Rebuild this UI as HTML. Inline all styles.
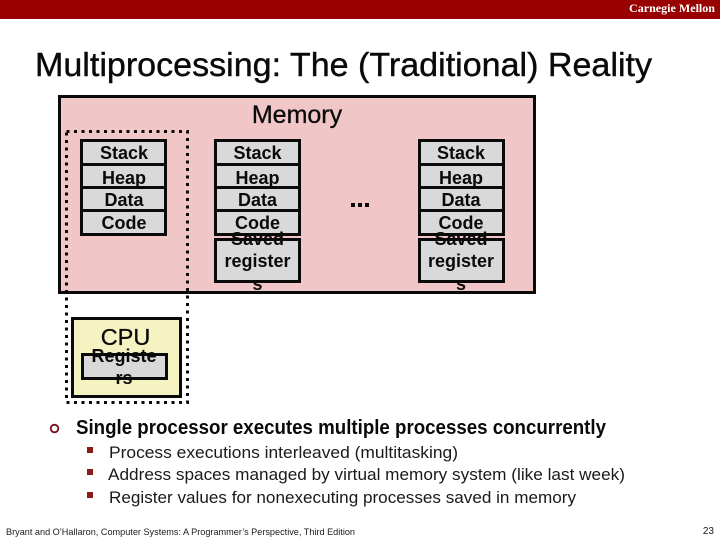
<!DOCTYPE html>
<html><head><meta charset="utf-8"><style>
html,body{margin:0;padding:0;background:#fff;width:720px;height:540px;overflow:hidden}
svg{display:block}
.a{font-family:"Liberation Sans",sans-serif}
.b{font-family:"Liberation Sans",sans-serif;font-weight:bold;font-size:18px;text-anchor:middle;fill:#0a0a0a}
</style></head><body>
<svg width="720" height="540" viewBox="0 0 720 540" xmlns="http://www.w3.org/2000/svg">
<rect x="0" y="0" width="720" height="19" fill="#990000"/>
<text x="715" y="12" text-anchor="end" font-family="'Liberation Serif',serif" font-weight="bold" font-size="11.5" fill="#fff" textLength="86" lengthAdjust="spacingAndGlyphs">Carnegie Mellon</text>
<text x="35" y="76" class="a" font-size="33" fill="#0a0a0a" stroke="#0a0a0a" stroke-width="0.4" textLength="617" lengthAdjust="spacingAndGlyphs">Multiprocessing: The (Traditional) Reality</text>

<rect x="59.5" y="96.5" width="475" height="196" fill="#f0c6c6" stroke="#0a0a0a" stroke-width="3"/>
<text x="297" y="123" class="a" font-size="25" text-anchor="middle" fill="#0a0a0a" stroke="#0a0a0a" stroke-width="0.3">Memory</text>

<g fill="#d9d9d9" stroke="#0a0a0a" stroke-width="3">
<rect x="81.5" y="140.5" width="84" height="24"/><rect x="81.5" y="164.5" width="84" height="23"/><rect x="81.5" y="187.5" width="84" height="23"/><rect x="81.5" y="210.5" width="84" height="24"/>
<rect x="215.5" y="140.5" width="84" height="24"/><rect x="215.5" y="164.5" width="84" height="23"/><rect x="215.5" y="187.5" width="84" height="23"/><rect x="215.5" y="210.5" width="84" height="24"/>
<rect x="215.5" y="239.5" width="84" height="42"/>
<rect x="419.5" y="140.5" width="84" height="24"/><rect x="419.5" y="164.5" width="84" height="23"/><rect x="419.5" y="187.5" width="84" height="23"/><rect x="419.5" y="210.5" width="84" height="24"/>
<rect x="419.5" y="239.5" width="84" height="42"/>
</g>

<text class="b" x="124" y="159">Stack</text><text class="b" x="124" y="184">Heap</text><text class="b" x="124" y="206">Data</text><text class="b" x="124" y="229">Code</text>
<text class="b" x="257.500" y="159">Stack</text><text class="b" x="257.500" y="184">Heap</text><text class="b" x="257.500" y="206">Data</text><text class="b" x="257.500" y="229">Code</text>
<text class="b" x="257.500" y="245">Saved</text><text class="b" x="257.500" y="267">register</text><text class="b" x="257.500" y="290">s</text>
<text class="b" x="461" y="159">Stack</text><text class="b" x="461" y="184">Heap</text><text class="b" x="461" y="206">Data</text><text class="b" x="461" y="229">Code</text>
<text class="b" x="461" y="245">Saved</text><text class="b" x="461" y="267">register</text><text class="b" x="461" y="290">s</text>

<g fill="#0a0a0a"><rect x="351" y="203" width="4" height="4"/><rect x="358" y="203" width="4" height="4"/><rect x="365" y="203" width="4" height="4"/></g>

<rect x="72.500" y="318.500" width="108" height="78" fill="#f6f3c2" stroke="#0a0a0a" stroke-width="3"/>
<rect x="82.500" y="354.500" width="84" height="24" fill="#d9d9d9" stroke="#0a0a0a" stroke-width="3"/>
<text x="125.500" y="345" class="a" font-size="23.500" text-anchor="middle" fill="#0a0a0a" stroke="#0a0a0a" stroke-width="0.3">CPU</text>
<text class="b" x="124" y="362">Registe</text><text class="b" x="124" y="384">rs</text>

<rect x="66.500" y="131.500" width="121" height="271" fill="none" stroke="#0a0a0a" stroke-width="3" stroke-dasharray="3 4.500"/>

<circle cx="54.500" cy="428.500" r="3.800" fill="none" stroke="#7a1020" stroke-width="1.800"/>
<text x="76" y="434" class="a" font-weight="bold" font-size="20" fill="#0a0a0a" textLength="530" lengthAdjust="spacingAndGlyphs">Single processor executes multiple processes concurrently</text>
<g fill="#8f1a1a"><rect x="87" y="447" width="6" height="6"/><rect x="87" y="469" width="6" height="6"/><rect x="87" y="492" width="6" height="6"/></g>
<g class="a" font-size="17" fill="#1a1a1a">
<text x="109" y="458" textLength="349" lengthAdjust="spacingAndGlyphs">Process executions interleaved (multitasking)</text>
<text x="108" y="480" textLength="517" lengthAdjust="spacingAndGlyphs">Address spaces managed by virtual memory system (like last week)</text>
<text x="109" y="503" textLength="467" lengthAdjust="spacingAndGlyphs">Register values for nonexecuting processes saved in memory</text>
</g>
<text x="6" y="535" class="a" font-size="9.500" fill="#1a1a1a" textLength="349" lengthAdjust="spacingAndGlyphs">Bryant and O’Hallaron, Computer Systems: A Programmer’s Perspective, Third Edition</text>
<text x="714" y="534" class="a" font-size="10" text-anchor="end" fill="#1a1a1a">23</text>
</svg>
</body></html>
